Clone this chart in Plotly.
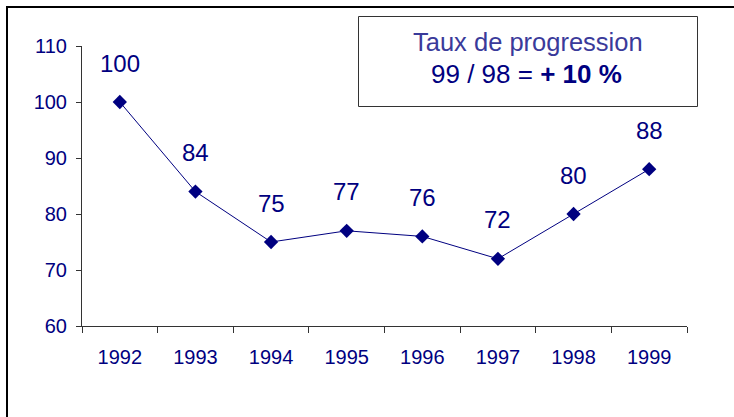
import plotly.graph_objects as go

years = ["1992", "1993", "1994", "1995", "1996", "1997", "1998", "1999"]
values = [100, 84, 75, 77, 76, 72, 80, 88]
y_ticks = [60, 70, 80, 90, 100, 110]
box_line1 = "Taux de progression"
box_line2 = "99 / 98 = <b>+ 10 %</b>"

NAVY = "#000080"
FONT = "Liberation Sans, Arial, sans-serif"
W, H = 734, 417
L, R, T, B = 82, 47, 46, 91
pw, ph = W - L - R, H - T - B

def px_x(p):
    return (p - L) / pw

def px_y(p):
    return (H - B - p) / ph

fig = go.Figure()
fig.add_trace(go.Scatter(
    x=years, y=values, mode="lines+markers",
    line=dict(color=NAVY, width=1),
    marker=dict(symbol="diamond", size=11, color=NAVY),
    hoverinfo="skip",
))

for i, v in enumerate(values):
    fig.add_annotation(x=i, y=v, xref="x", yref="y", text=str(v), showarrow=False,
                       yshift=39, font=dict(size=24, color=NAVY, family=FONT))

# page frame (left and top border)
fig.add_shape(type="line", xref="paper", yref="paper",
              x0=px_x(7), x1=px_x(7), y0=px_y(417), y1=px_y(6),
              line=dict(color="black", width=2))
fig.add_shape(type="line", xref="paper", yref="paper",
              x0=px_x(6), x1=px_x(734), y0=px_y(7), y1=px_y(7),
              line=dict(color="black", width=2))

# text box
fig.add_shape(type="rect", xref="paper", yref="paper",
              x0=px_x(358.5), x1=px_x(697.5), y0=px_y(106.5), y1=px_y(16.5),
              line=dict(color="#333333", width=1), fillcolor="white")
fig.add_annotation(xref="paper", yref="paper", x=px_x(527.5), y=px_y(42),
                   text=f"<span style='color:#3a3a9a'>{box_line1}</span>",
                   showarrow=False, xanchor="center", yanchor="middle",
                   font=dict(size=25.5, family=FONT))
fig.add_annotation(xref="paper", yref="paper", x=px_x(526), y=px_y(74),
                   text=box_line2,
                   showarrow=False, xanchor="center", yanchor="middle",
                   font=dict(size=26, color=NAVY, family=FONT))

fig.update_layout(
    width=W, height=H,
    margin=dict(l=L, r=R, t=T, b=B, pad=0),
    paper_bgcolor="white", plot_bgcolor="white",
    showlegend=False,
    font=dict(family=FONT, color=NAVY, size=20),
    xaxis=dict(
        type="category", range=[-0.5, 7.5],
        showline=True, linecolor="#333333", linewidth=1,
        ticks="outside", ticklen=6, tickcolor="#333333", tickwidth=1,
        tickson="boundaries", showgrid=False, zeroline=False,
        tickfont=dict(size=20, color=NAVY),
        ticklabelstandoff=13,
    ),
    yaxis=dict(
        range=[60, 110], tickvals=y_ticks,
        showline=True, linecolor="#333333", linewidth=1,
        ticks="outside", ticklen=5, tickcolor="#333333", tickwidth=1,
        showgrid=False, zeroline=False,
        tickfont=dict(size=20, color=NAVY),
        ticklabelstandoff=5,
    ),
)

fig.write_html("out.html", config={"displayModeBar": False},
               post_script="document.body.style.margin='0';document.body.style.overflow='hidden';")
